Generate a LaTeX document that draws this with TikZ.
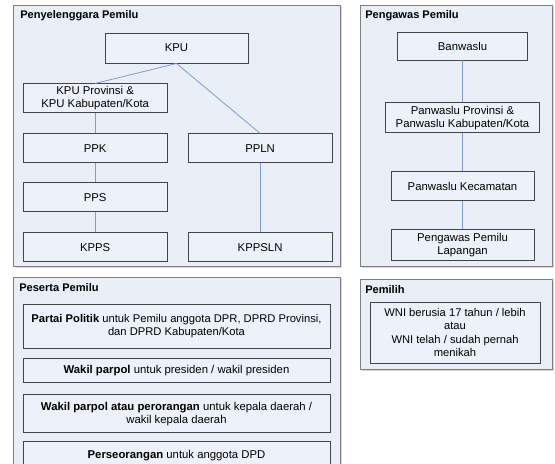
\documentclass[tikz,border=0pt]{standalone}
\usepackage{fontspec}
\setmainfont{Liberation Sans}
\usepackage{tikz}
\usetikzlibrary{positioning,shadows}
\definecolor{groupfill}{HTML}{E9EEF7}
\definecolor{groupline}{HTML}{7F7F7F}
\definecolor{boxfill}{HTML}{EDF1F9}
\definecolor{boxline}{HTML}{444444}
\definecolor{linkline}{HTML}{7D9DCB}

\begin{document}
\begin{tikzpicture}[
    x=0.75pt, y=-0.75pt,
    node distance=15pt,
    font=\fontsize{8.5}{9.6}\selectfont,
    group/.style={
		rectangle,
		draw=groupline,
		line width=0.9pt,
		fill=groupfill,
		drop shadow={shadow xshift=0.9pt, shadow yshift=-0.9pt, fill=black!30},
		anchor=north west,
		inner sep=0pt
	},
    title/.style={
		anchor=west,
		inner sep=0pt,
		font=\fontsize{8.3}{9.6}\selectfont\bfseries
	},
    box/.style={
		rectangle,
		draw=boxline,
		line width=0.7pt,
		fill=boxfill,
		text centered,
		align=center,
		inner sep=1pt,
		minimum width=108pt,
		minimum height=21.75pt
	},
    wide/.style={
		minimum width=230.25pt
	},
    link/.style={
		draw=linkline,
		line width=0.6pt
	}
  ]
  \useasboundingbox (0,0) rectangle (555,463);
  \clip (0,0) rectangle (555,463);

  % the four frames first
  \node [group, minimum width=245.25pt, minimum height=195.75pt] (penyelenggara) at (13,5) {};
  \node [group, minimum width=144pt, minimum height=195.75pt] (pengawas) at (360,5) {};
  \node [group, minimum width=245.25pt, minimum height=157.5pt] (peserta) at (13,277) {};
  \node [group, minimum width=144pt, minimum height=67.5pt] (pemilih) at (360,279) {};

  \node [title] (tpenyelenggara) at (20,16) {Penyelenggara Pemilu};
  \node [title] (tpengawas) at (365,16) {Pengawas Pemilu};
  \node [title] (tpeserta) at (19,288) {Peserta Pemilu};
  \node [title] (tpemilih) at (365,290) {Pemilih};

  % Penyelenggara Pemilu
  \node [box, minimum width=107.25pt, minimum height=22.5pt] (kpu) at (176.5,48) {KPU};
  \node [box, below=15pt of kpu, xshift=-61pt] (kpuprov) {KPU Provinsi \&\\KPU Kabupaten/Kota};
  \node [box, below=15pt of kpuprov] (ppk) {PPK};
  \node [box, below=14.25pt of ppk] (pps) {PPS};
  \node [box, below=15pt of pps] (kpps) {KPPS};
  \node [box, right=15pt of ppk] (ppln) {PPLN};
  \node [box, right=15pt of kpps] (kppsln) {KPPSLN};

  % Pengawas Pemilu
  \node [box, minimum width=97.5pt, minimum height=21pt] (banwaslu) at (462.5,46) {Banwaslu};
  \node [box, minimum width=115.5pt, minimum height=22.5pt, below=31.5pt of banwaslu] (panwasprov) {Panwaslu Provinsi \&\\Panwaslu Kabupaten/Kota};
  \node [box, minimum width=107.25pt, below=28.5pt of panwasprov] (panwaskec) {Panwaslu Kecamatan};
  \node [box, minimum width=107.25pt, minimum height=23.25pt, below=21pt of panwaskec] (lapangan) {Pengawas Pemilu\\Lapangan};

  % Peserta Pemilu
  \node [box, wide, minimum height=33pt, font=\fontsize{8.4}{9.6}\selectfont] (partai) at (176.5,326) {\textbf{Partai Politik} untuk Pemilu anggota DPR, DPRD Provinsi,\\dan DPRD Kabupaten/Kota};
  \node [box, wide, minimum height=18pt, below=7.5pt of partai] (wakil) {\textbf{Wakil parpol} untuk presiden / wakil presiden};
  \node [box, wide, minimum height=28.5pt, below=8.25pt of wakil] (perorangan) {\textbf{Wakil parpol atau perorangan} untuk kepala daerah /\\wakil kepala daerah};
  \node [box, wide, minimum height=21pt, below=5.5pt of perorangan] (dpd) {\textbf{Perseorangan} untuk anggota DPD};

  % Pemilih
  \node [box, minimum width=127.5pt, minimum height=45.75pt, font=\fontsize{8.4}{9.8}\selectfont] (wni) at (455,332.5) {WNI berusia 17 tahun / lebih\\atau\\WNI telah / sudah pernah\\menikah};

  % connectors
  \draw [link] (kpu.south) -- (kpuprov.north);
  \draw [link] (kpu.south) -- (ppln.north);
  \draw [link] (kpuprov) -- (ppk);
  \draw [link] (ppk) -- (pps);
  \draw [link] (pps) -- (kpps);
  \draw [link] (ppln) -- (kppsln);
  \draw [link] (banwaslu) -- (panwasprov);
  \draw [link] (panwasprov) -- (panwaskec);
  \draw [link] (panwaskec) -- (lapangan);
\end{tikzpicture}
\end{document}
